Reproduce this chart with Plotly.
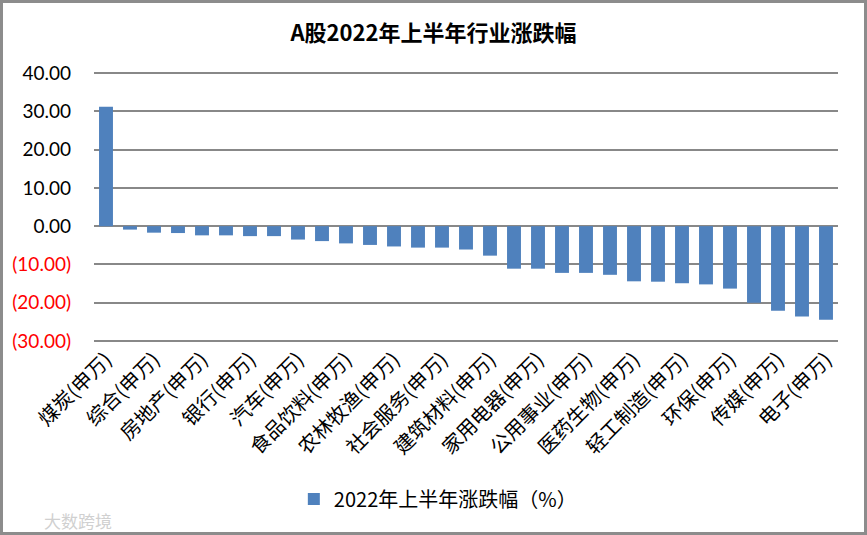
import plotly.graph_objects as go

title_text = "A股2022年上半年行业涨跌幅"
series_name = "2022年上半年涨跌幅（%）"

categories = [
    "煤炭(申万)", "交通运输(申万)", "综合(申万)", "美容护理(申万)", "房地产(申万)",
    "有色金属(申万)", "银行(申万)", "石油石化(申万)", "汽车(申万)", "电力设备(申万)",
    "食品饮料(申万)", "基础化工(申万)", "农林牧渔(申万)", "非银金融(申万)", "社会服务(申万)",
    "钢铁(申万)", "建筑材料(申万)", "建筑装饰(申万)", "家用电器(申万)", "商贸零售(申万)",
    "公用事业(申万)", "纺织服饰(申万)", "医药生物(申万)", "国防军工(申万)", "轻工制造(申万)",
    "机械设备(申万)", "环保(申万)", "通信(申万)", "传媒(申万)", "计算机(申万)", "电子(申万)",
]
values = [
    31.2, -0.9, -1.7, -1.8, -2.4,
    -2.4, -2.6, -2.6, -3.5, -3.9,
    -4.5, -4.9, -5.3, -5.6, -5.6,
    -6.1, -7.7, -11.1, -11.1, -12.2,
    -12.2, -12.7, -14.4, -14.5, -14.9,
    -15.2, -16.3, -20.0, -22.1, -23.6, -24.4,
]
shown_labels = categories[::2]

y_ticks = [-30, -20, -10, 0, 10, 20, 30, 40]


def fmt(v):
    if v < 0:
        return "<span style='color:#FF0000'>(%.2f)</span>" % abs(v)
    return "%.2f" % v


y_ticktext = [fmt(v) for v in y_ticks]

W, H = 867, 535
L, R, T, B = 94, 29, 71, 192

fig = go.Figure()
fig.add_trace(go.Bar(
    x=categories, y=values, name=series_name,
    marker=dict(color="#4F81BD", line=dict(width=0)),
    showlegend=True,
))

pw = W - L - R
ph = H - T - B


def px_to_paper_x(px):
    return (px - L) / pw


def px_to_paper_y(py):
    return (H - B - py) / ph


fig.update_layout(
    width=W, height=H,
    margin=dict(l=L, r=R, t=T, b=B, autoexpand=False),
    paper_bgcolor="white", plot_bgcolor="white",
    bargap=0.42,
    title=dict(text="<b>" + title_text + "</b>", x=0.5, xanchor="center",
               y=1 - 33 / H, yanchor="middle", yref="container",
               font=dict(family="Noto Sans CJK SC", size=22, color="#000000")),
    showlegend=True,
    legend=dict(orientation="h", xref="container", yref="container",
                x=0.505, xanchor="center", y=1 - 499 / H, yanchor="middle",
                font=dict(family="Noto Sans CJK SC", size=20, color="#000000"),
                bgcolor="rgba(0,0,0,0)"),
    font=dict(family="Noto Sans CJK SC", color="#000000"),
    shapes=[dict(type="rect", xref="paper", yref="paper",
                 x0=px_to_paper_x(1.5), x1=px_to_paper_x(W - 1.5),
                 y0=px_to_paper_y(H - 1.5), y1=px_to_paper_y(1.5),
                 line=dict(color="#8c8c8c", width=3), layer="above")],
    annotations=[dict(text="大数跨境", xref="paper", yref="paper",
                      x=px_to_paper_x(42), y=px_to_paper_y(520),
                      xanchor="left", yanchor="middle", showarrow=False,
                      font=dict(family="Noto Sans CJK SC", size=17, color="#d0d0d0"))],
)

fig.update_xaxes(
    type="category", categoryorder="array", categoryarray=categories,
    tickmode="array", tickvals=shown_labels, ticktext=shown_labels,
    tickangle=-45, showgrid=False, zeroline=False, showline=False,
    ticks="", automargin=False,
    tickfont=dict(family="Noto Sans CJK SC", size=20, color="#000000"),
)
fig.update_yaxes(
    range=[-30.5, 40.5], tickmode="array", tickvals=y_ticks, ticktext=y_ticktext,
    showgrid=True, gridcolor="#888888", gridwidth=1.5,
    zeroline=True, zerolinecolor="#888888", zerolinewidth=1.5,
    showline=False, ticks="", ticklabelstandoff=22, automargin=False,
    tickfont=dict(family="Lato", size=19, color="#000000"),
)

fig.write_html("out.html", config={"displayModeBar": False},
               post_script="document.body.style.margin='0px';document.body.style.padding='0px';")
